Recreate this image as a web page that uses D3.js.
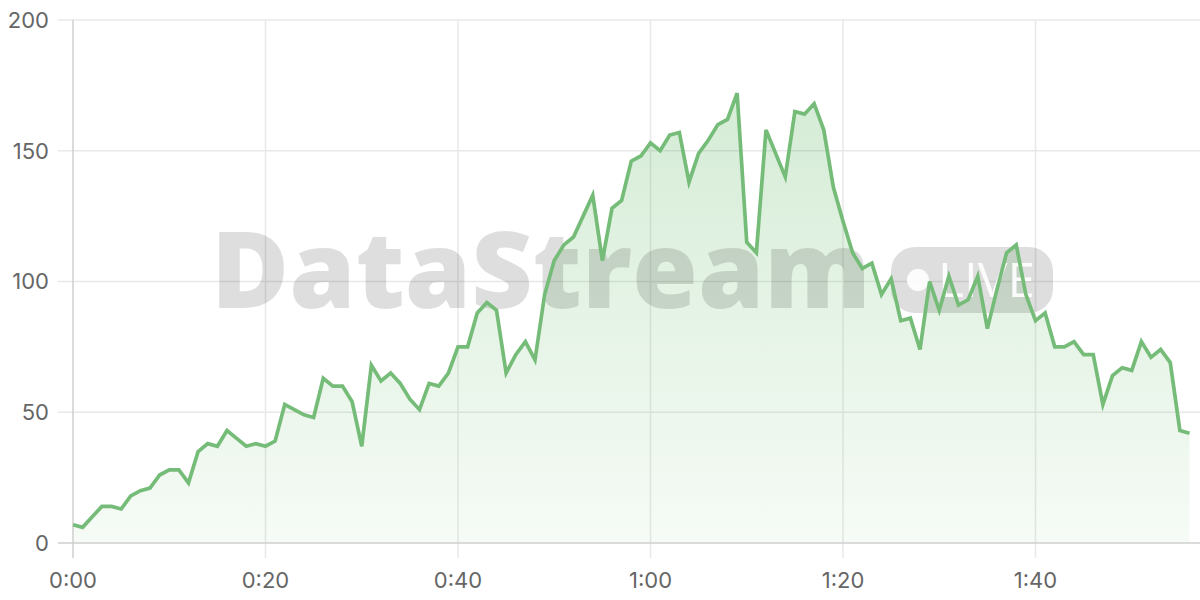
<!DOCTYPE html>
<html>
<head>
<meta charset="utf-8">
<script src="https://cdn.jsdelivr.net/npm/d3@7"></script>
<style>
  html, body { margin: 0; padding: 0; background: #fff; }
  svg { display: block; }
</style>
</head>
<body>
<svg id="chart" width="1200" height="600"></svg>
<script>
// minutes since start (one point per minute)
const minutes = d3.range(0, 117);
const viewers = [
  7, 6, 10, 14, 14, 13, 18, 20, 21, 26,
  28, 28, 23, 35, 38, 37, 43, 40, 37, 38,
  37, 39, 53, 51, 49, 48, 63, 60, 60, 54,
  37, 68, 62, 65, 61, 55, 51, 61, 60, 65,
  75, 75, 88, 92, 89, 65, 72, 77, 70, 95,
  108, 114, 117, 125, 133, 108, 128, 131, 146, 148,
  153, 150, 156, 157, 138, 149, 154, 160, 162, 172,
  115, 111, 158, 149, 140, 165, 164, 168, 158, 136,
  123, 111, 105, 107, 95, 101, 85, 86, 74, 100,
  89, 102, 91, 93, 102, 82, 97, 111, 114, 95,
  85, 88, 75, 75, 77, 72, 72, 53, 64, 67,
  66, 77, 71, 74, 69, 43, 42
];
const xTicks = [0, 20, 40, 60, 80, 100];
const xTickLabels = ["0:00", "0:20", "0:40", "1:00", "1:20", "1:40"];
const yTicks = [0, 50, 100, 150, 200];

(function () {
const data = minutes.map((m, i) => ({ m, v: viewers[i] }));

const svg = d3.select("#chart");
const pLeft = 73, pRight = 1189.5, pTop = 20, pBottom = 543;
const x = d3.scaleLinear().domain([0, 116]).range([pLeft, pRight]);
const y = d3.scaleLinear().domain([0, 200]).range([pBottom, pTop]);

const font = "Inter, 'Noto Sans', sans-serif";

// gradient
const defs = svg.append("defs");
const grad = defs.append("linearGradient")
  .attr("id", "fillGrad").attr("gradientUnits", "userSpaceOnUse")
  .attr("x1", 0).attr("x2", 0).attr("y1", y(175)).attr("y2", y(0));
grad.append("stop").attr("offset", "0%").attr("stop-color", "#4caf50").attr("stop-opacity", 0.24);
grad.append("stop").attr("offset", "100%").attr("stop-color", "#4caf50").attr("stop-opacity", 0.05);

// grid - horizontal
svg.append("g").selectAll("line").data(yTicks.filter(d => d > 0)).join("line")
  .attr("x1", 58).attr("x2", 1200)
  .attr("y1", d => y(d)).attr("y2", d => y(d))
  .attr("stroke", "#e8e8e8").attr("stroke-width", 1.5);
// grid - vertical
svg.append("g").selectAll("line").data(xTicks.filter(d => d > 0)).join("line")
  .attr("x1", d => x(d)).attr("x2", d => x(d))
  .attr("y1", pTop).attr("y2", 558)
  .attr("stroke", "#e8e8e8").attr("stroke-width", 1.5);

// area
const area = d3.area().x(d => x(d.m)).y0(y(0)).y1(d => y(d.v));
svg.append("path").datum(data).attr("d", area).attr("fill", "url(#fillGrad)");

// watermark
const wm = svg.append("g").attr("fill", "rgba(0,0,0,0.13)");
wm.append("text")
  .attr("x", 211).attr("y", 308)
  .attr("font-family", "'Open Sans', Lato, sans-serif")
  .attr("font-weight", 800)
  .attr("font-size", 106)
  .attr("textLength", 660).attr("lengthAdjust", "spacingAndGlyphs")
  .text("DataStream");
const pill = svg.append("g");
pill.append("rect")
  .attr("x", 891).attr("y", 247).attr("width", 162).attr("height", 66).attr("rx", 24)
  .attr("fill", "rgba(0,0,0,0.13)");
pill.append("circle").attr("cx", 918).attr("cy", 280).attr("r", 11).attr("fill", "#fff").attr("fill-opacity", 0.9);
pill.append("text")
  .attr("x", 938).attr("y", 297)
  .attr("font-family", "'Open Sans', sans-serif")
  .attr("font-weight", 400)
  .attr("font-size", 47)
  .attr("textLength", 97).attr("lengthAdjust", "spacingAndGlyphs")
  .attr("fill", "#fff").attr("fill-opacity", 0.9)
  .text("LIVE");

// axes lines
svg.append("line").attr("x1", pLeft).attr("x2", pLeft).attr("y1", pTop).attr("y2", 558)
  .attr("stroke", "#cfcfcf").attr("stroke-width", 1.5);
svg.append("line").attr("x1", 58).attr("x2", 1200).attr("y1", pBottom).attr("y2", pBottom)
  .attr("stroke", "#cfcfcf").attr("stroke-width", 1.5);

// line
const line = d3.line().x(d => x(d.m)).y(d => y(d.v));
svg.append("path").datum(data).attr("d", line)
  .attr("fill", "none").attr("stroke", "#76bc79").attr("stroke-width", 3.7)
  .attr("stroke-linejoin", "miter").attr("stroke-miterlimit", 4);

// y labels
svg.append("g").selectAll("text").data(yTicks).join("text")
  .attr("x", 49).attr("y", d => y(d)).attr("dy", "0.36em")
  .attr("text-anchor", "end")
  .attr("font-family", font).attr("font-size", 22).attr("fill", "#666")
  .text(d => d);

// x labels
svg.append("g").selectAll("text").data(xTicks).join("text")
  .attr("x", d => x(d)).attr("y", 588)
  .attr("text-anchor", "middle")
  .attr("font-family", font).attr("font-size", 22).attr("fill", "#666")
  .text((d, i) => xTickLabels[i]);
})();
</script>
</body>
</html>
